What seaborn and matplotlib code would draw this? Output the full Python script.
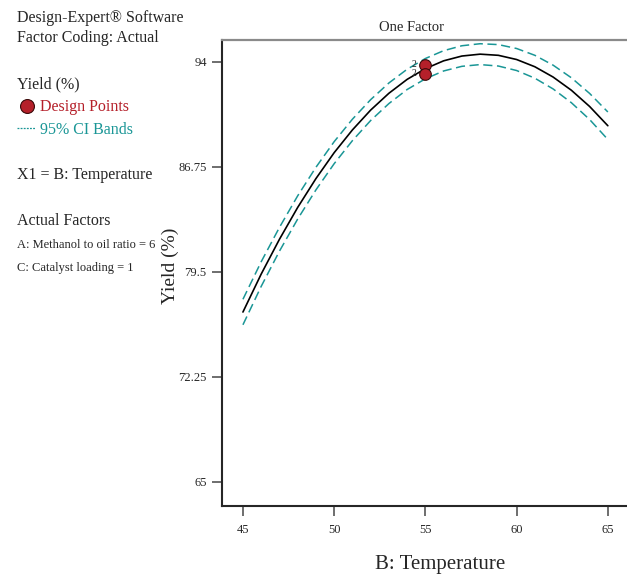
import numpy as np
import pandas as pd
import seaborn as sns
import matplotlib
matplotlib.use("Agg")
import matplotlib.pyplot as plt

# values
temperature = [45, 46, 47, 48, 49, 50, 51, 52, 53, 54, 55,
               56, 57, 58, 59, 60, 61, 62, 63, 64, 65]
yield_pred = [76.73, 79.35, 81.75, 83.95, 85.94, 87.73, 89.30, 90.67, 91.83, 92.79, 93.53,
              94.07, 94.40, 94.53, 94.45, 94.16, 93.66, 92.95, 92.04, 90.92, 89.59]
ci_upper = [77.61, 80.20, 82.57, 84.75, 86.72, 88.49, 90.04, 91.39, 92.54, 93.49, 94.23,
            94.77, 95.11, 95.25, 95.19, 94.92, 94.45, 93.77, 92.90, 91.82, 90.54]
ci_lower = [75.85, 78.50, 80.93, 83.15, 85.16, 86.97, 88.56, 89.95, 91.12, 92.09, 92.83,
            93.37, 93.69, 93.81, 93.71, 93.40, 92.87, 92.13, 91.18, 90.02, 88.64]

design_x = [55, 55]
design_y = [93.79, 93.17]
design_reps = ["2", "2"]

yticks = [65, 72.25, 79.5, 86.75, 94]
ytick_labels = ["65", "72.25", "79.5", "86.75", "94"]
xticks = [45, 50, 55, 60, 65]

teal = "#1a9696"
red = "#b5202a"

sns.set_style("ticks")
plt.rcParams["font.family"] = ["Liberation Serif", "DejaVu Serif"]

df = pd.DataFrame({"B: Temperature": temperature, "Yield": yield_pred,
                   "upper": ci_upper, "lower": ci_lower})
pts = pd.DataFrame({"x": design_x, "y": design_y})

fig = plt.figure(figsize=(6.27, 5.77), dpi=100)
ax = fig.add_axes([0.354, 0.123, 0.646, 0.808])

sns.lineplot(data=df, x="B: Temperature", y="Yield", color="black", lw=1.2, ax=ax)
sns.lineplot(data=df, x="B: Temperature", y="upper", color=teal, lw=1.1,
             linestyle=(0, (6, 3)), ax=ax)
sns.lineplot(data=df, x="B: Temperature", y="lower", color=teal, lw=1.1,
             linestyle=(0, (6, 3)), ax=ax)
sns.scatterplot(data=pts, x="x", y="y", color=red, edgecolor="#3a0a0a",
                s=70, linewidth=0.8, zorder=5, ax=ax)
for xx, yy, lab in zip(design_x, design_y, design_reps):
    ax.text(xx - 0.6, yy, lab, fontsize=7, ha="center", va="center")

ax.set_xlim(43.85, 66.05)
ax.set_ylim(63.34, 95.52)
ax.set_xticks(xticks)
ax.set_yticks(yticks)
ax.set_yticklabels(ytick_labels)
ax.tick_params(axis="both", direction="out", length=7, width=1.2,
               color="#555555", labelsize=9)
ax.tick_params(axis="x", pad=6)
ax.tick_params(axis="y", pad=4)

ax.spines["right"].set_visible(False)
ax.spines["top"].set_color("#8a8a8a")
ax.spines["top"].set_linewidth(1.6)
ax.spines["left"].set_linewidth(1.5)
ax.spines["bottom"].set_linewidth(1.5)

ax.set_xlabel("B: Temperature", fontsize=15)
ax.xaxis.set_label_coords(0.538, -0.105)
ax.set_ylabel("Yield (%)", fontsize=14)
ax.yaxis.set_label_coords(-0.105, 0.515)
ax.set_title("One Factor", fontsize=10.5, x=0.467, pad=6)

# side legend / info block
fig.text(17 / 627, 1 - 18 / 577, "Design-Expert® Software", fontsize=11.5, va="center")
fig.text(17 / 627, 1 - 38 / 577, "Factor Coding: Actual", fontsize=11.5, va="center")
fig.text(17 / 627, 1 - 84 / 577, "Yield (%)", fontsize=11.5, va="center")
fig.text(40 / 627, 1 - 107 / 577, "Design Points", fontsize=11.5, va="center", color=red)
fig.text(40 / 627, 1 - 130 / 577, "95% CI Bands", fontsize=11.5, va="center", color=teal)
fig.text(17 / 627, 1 - 175 / 577, "X1 = B: Temperature", fontsize=11.5, va="center")
fig.text(17 / 627, 1 - 221 / 577, "Actual Factors", fontsize=11.5, va="center")
fig.text(17 / 627, 1 - 245 / 577, "A: Methanol to oil ratio = 6", fontsize=9, va="center")
fig.text(17 / 627, 1 - 268 / 577, "C: Catalyst loading = 1", fontsize=9, va="center")
fig.lines.append(plt.Line2D([27 / 627], [1 - 106 / 577], transform=fig.transFigure,
                            marker="o", ms=10, color=red, mec="#3a0a0a", mew=0.8))
fig.lines.append(plt.Line2D([17 / 627, 35 / 627], [1 - 128 / 577, 1 - 128 / 577],
                            transform=fig.transFigure, color=teal, lw=0.9,
                            linestyle=(0, (1.5, 1))))

fig.savefig("out.png", dpi=100)
